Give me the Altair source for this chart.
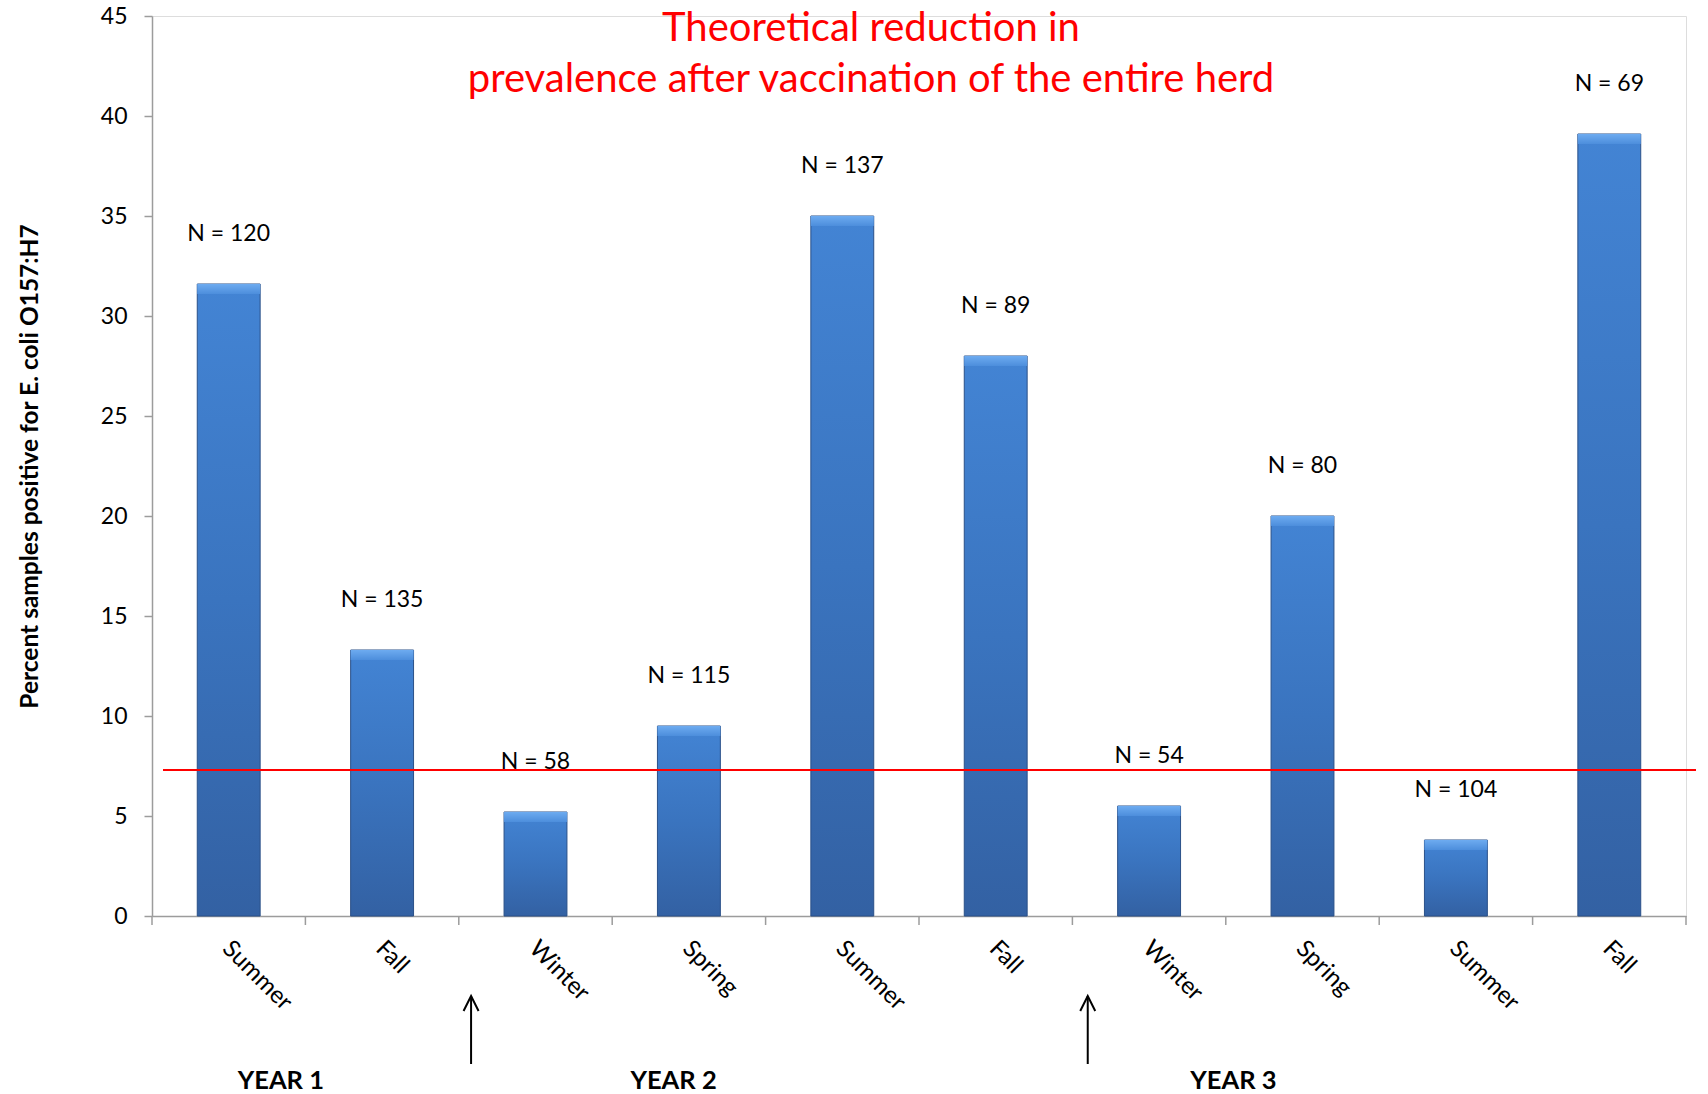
import altair as alt
import pandas as pd

# Seasonal sampling periods (one bar each) and the year they belong to
seasons = ["Summer", "Fall", "Winter", "Spring", "Summer", "Fall", "Winter", "Spring", "Summer", "Fall"]
years = ["Y1", "Y1", "Y2", "Y2", "Y2", "Y2", "Y3", "Y3", "Y3", "Y3"]
# Percent of samples positive for E. coli O157:H7
prevalence = [31.6, 13.3, 5.2, 9.5, 35.0, 28.0, 5.5, 20.0, 3.8, 39.1]
# Number of samples per period
n_samples = [120, 135, 58, 115, 137, 89, 54, 80, 104, 69]

# Theoretical prevalence after vaccinating the whole herd
vaccinated_level = 7.3

# Year captions and vaccination arrows, in units of seasons along the x axis
year_labels = ["YEAR 1", "YEAR 2", "YEAR 3"]
year_label_pos = [0.84, 3.40, 7.05]
vaccination_pos = [2.08, 6.10]
season_boundaries = list(range(len(seasons) + 1))

title_lines = ["Theoretical reduction in", "prevalence after vaccination of the entire herd"]

W, H = 1534, 900
FONT = "Lato"
AXIS_GREY = "#9C9C9C"

periods = [f"{s} ({y})" for s, y in zip(seasons, years)]
df = pd.DataFrame({"period": periods, "pct": prevalence,
                   "label": [f"N = {n}" for n in n_samples]})
years_df = pd.DataFrame({"pos": year_label_pos, "text": year_labels})
arrows_df = pd.DataFrame({"pos": vaccination_pos})
ticks_df = pd.DataFrame({"pos": season_boundaries})

band_scale = alt.Scale(paddingInner=0.59, paddingOuter=0.295)
y_scale = alt.Scale(domain=[0, 45], nice=False, zero=True)
lin_x = alt.Scale(domain=[0, len(seasons)], nice=False, zero=False)

bar_fill = alt.LinearGradient(
    gradient="linear", x1=0, x2=0, y1=0, y2=1,
    stops=[alt.GradientStop(color="#4384D4", offset=0),
           alt.GradientStop(color="#3A74BF", offset=0.5),
           alt.GradientStop(color="#3361A3", offset=1)],
)
bevel_fill = alt.LinearGradient(
    gradient="linear", x1=0, x2=0, y1=0, y2=1,
    stops=[alt.GradientStop(color="#6DABF0", offset=0),
           alt.GradientStop(color="#4D8EDC", offset=1)],
)

x_band = alt.X(
    "period:N", sort=periods, scale=band_scale, title=None,
    axis=alt.Axis(
        labelExpr="split(datum.label, ' ')[0]",
        labelAngle=45, labelAlign="left", labelBaseline="top",
        labelPadding=20, labelOffset=6, labelFontSize=24, labelFont=FONT,
        labelColor="#000000", ticks=False, domainColor=AXIS_GREY, domainWidth=1.5,
    ),
)

bars = alt.Chart(df).mark_bar(
    color=bar_fill, stroke="#2A5088", strokeWidth=1
).encode(
    x=x_band,
    y=alt.Y(
        "pct:Q", scale=y_scale,
        title="Percent samples positive for E. coli O157:H7",
        axis=alt.Axis(
            values=list(range(0, 50, 5)), grid=False,
            tickSize=8, tickColor=AXIS_GREY, tickWidth=1.5,
            domainColor=AXIS_GREY, domainWidth=1.5,
            labelFontSize=23, labelFont=FONT, labelColor="#000000", labelPadding=17,
            titleFont=FONT, titleFontSize=24.5, titleFontWeight="bold", titleColor="#000000",
            titlePadding=58,
        ),
    ),
)

bevel = alt.Chart(df).mark_bar(color=bevel_fill, y2Offset=10).encode(
    x=alt.X("period:N", sort=periods, scale=band_scale, axis=None),
    y=alt.Y("pct:Q", scale=y_scale),
    y2="pct:Q",
)

counts = alt.Chart(df).mark_text(
    font=FONT, fontSize=23, color="#000000", baseline="middle", dy=-50
).encode(
    x=alt.X("period:N", sort=periods, scale=band_scale, axis=None, bandPosition=0.5),
    y=alt.Y("pct:Q", scale=y_scale),
    text="label:N",
)

target = alt.Chart(pd.DataFrame({"level": [vaccinated_level]})).mark_rule(
    color="#FF0000", strokeWidth=2
).encode(
    y=alt.Y("level:Q", scale=y_scale),
    x=alt.value(11), x2=alt.value(W + 10),
)

boundary_ticks = alt.Chart(ticks_df).mark_rule(color=AXIS_GREY, strokeWidth=1.5).encode(
    x=alt.X("pos:Q", scale=lin_x, axis=None),
    y=alt.value(H), y2=alt.value(H + 9),
)

arrow_shafts = alt.Chart(arrows_df).mark_rule(color="#000000", strokeWidth=2).encode(
    x=alt.X("pos:Q", scale=lin_x, axis=None),
    y=alt.value(H + 80), y2=alt.value(H + 148),
)

arrow_heads = alt.Chart(arrows_df).mark_point(
    shape="M-0.5,1L0,0L0.5,1", filled=False, color="#000000",
    strokeWidth=2, size=900, opacity=1,
).encode(
    x=alt.X("pos:Q", scale=lin_x, axis=None),
    y=alt.value(H + 80),
)

year_text = alt.Chart(years_df).mark_text(
    font=FONT, fontSize=25.5, fontWeight="bold", color="#000000", baseline="middle"
).encode(
    x=alt.X("pos:Q", scale=lin_x, axis=None),
    y=alt.value(H + 165),
    text="text:N",
)

heading = alt.Chart(pd.DataFrame({"k": [0]})).mark_text(
    font=FONT, fontSize=40, color="#FF0000", baseline="middle", align="center",
    lineHeight=51,
).encode(
    x=alt.value(719), y=alt.value(13),
    text=alt.value(title_lines),
)

chart = alt.layer(
    bars, bevel, counts, target, boundary_ticks, arrow_shafts, arrow_heads, year_text, heading
).resolve_scale(
    x="independent"
).properties(
    width=W, height=H,
    autosize=alt.AutoSizeParams(type="none"),
    padding={"left": 152, "top": 16, "right": 22, "bottom": 178},
).configure_view(
    stroke=None
).configure(
    background="#FFFFFF"
)

chart.save("out.html", embed_options={"renderer": "svg", "actions": False})
